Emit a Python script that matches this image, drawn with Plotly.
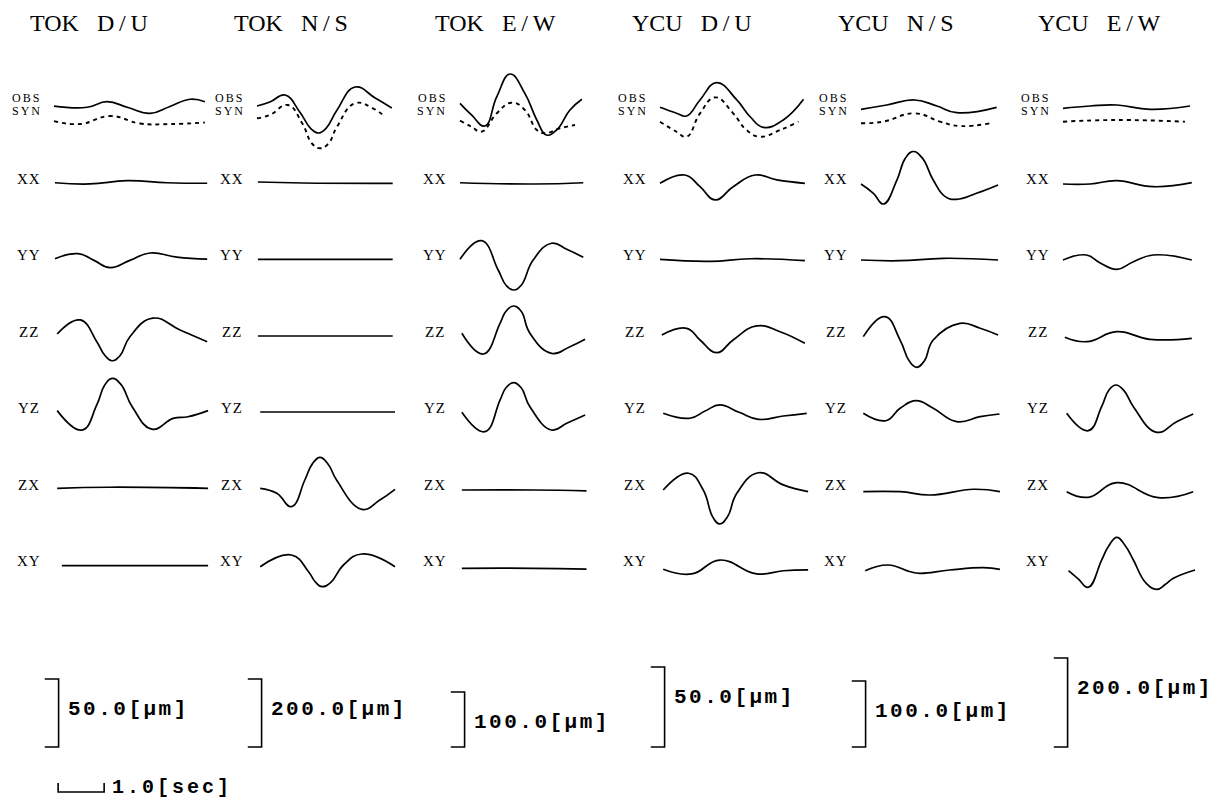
import plotly.graph_objects as go

# ---------------------------------------------------------------- data
PANELS = ["TOK", "TOK", "TOK", "YCU", "YCU", "YCU"]
COMPS_DIR = ["D/U", "N/S", "E/W", "D/U", "N/S", "E/W"]
COMPONENTS = ["OBS", "SYN", "XX", "YY", "ZZ", "YZ", "ZX", "XY"]
SCALE_UM = [50.0, 200.0, 100.0, 50.0, 100.0, 200.0]
SCALE_LABELS = ["50.0[μm]", "200.0[μm]", "100.0[μm]", "50.0[μm]", "100.0[μm]", "200.0[μm]"]
TIME_SCALE_SEC = 1.0
TIME_LABEL = "1.0[sec]"

# waveforms: (time [s], amplitude [μm])
TOK_DU_OBS = ([0, 0.72, 1.15, 1.61, 2.09, 2.52, 2.96, 3.28], [0.7, -0.2, 3.9, -0.4, -4.7, 0.4, 5.7, 3.9])
TOK_DU_SYN = ([0, 0.57, 1.22, 1.87, 2.52, 3.28], [0.7, -1.5, 4.4, -1.1, -1.5, -0.4])
TOK_DU_XX = ([0.02, 0.78, 1.59, 2.46, 3.33], [0.2, -0.7, 1.7, 0.2, -0.2])
TOK_DU_YY = ([0.02, 0.52, 0.87, 1.22, 1.65, 2.09, 2.67, 3.33], [0.5, 4.2, -0.7, -6.1, -0.7, 4.7, 1.7, 0.2])
TOK_DU_ZZ = ([0.07, 0.57, 0.93, 1.1, 1.26, 1.43, 1.65, 2.15, 2.74, 3.33], [1.5, 11.8, -4.2, -14.0, -18.2, -14.7, -0.5, 13.1, 4.4, -4.2])
TOK_DU_YZ = ([0.07, 0.61, 0.93, 1.1, 1.26, 1.45, 1.70, 2.13, 2.59, 2.91, 3.35], [1.0, -13.3, 5.2, 19.6, 24.7, 20.5, 3.9, -12.6, -4.7, -3.5, 1.0])
TOK_DU_ZX = ([0.07, 1.2, 3.35], [0.2, 1.0, 0.2])
TOK_DU_XY = ([0.17, 1.8, 3.35], [-0.5, -0.5, -0.5])

TOK_NS_OBS = ([0, 0.28, 0.61, 0.93, 1.17, 1.33, 1.5, 1.74, 2.13, 2.57, 2.93], [2.9, 14.7, 35.3, -14.7, -63.5, -76.5, -63.0, -8.8, 58.8, 26.5, -2.9])
TOK_NS_SYN = ([0, 0.28, 0.67, 0.98, 1.2, 1.37, 1.55, 1.74, 2.13, 2.52, 2.78], [10.9, 20.6, 50.0, -2.9, -64.0, -77.4, -64.0, -13.8, 55.0, 40.3, 15.6])
TOK_NS_XX = ([0.02, 1.0, 2.95], [3.0, 0.0, -1.0])
TOK_NS_YY = ([0.02, 1.5, 2.95], [0.0, 0.0, 0.0])
TOK_NS_ZZ = ([0.02, 1.5, 2.95], [0.0, 0.0, 0.0])
TOK_NS_YZ = ([0.07, 1.5, 3.0], [0.0, 0.0, 0.0])
TOK_NS_ZX = ([0.07, 0.43, 0.75, 1.04, 1.2, 1.37, 1.55, 1.73, 2.28, 2.67, 3.0], [0.9, -13.8, -53.2, 25.3, 72.0, 92.0, 71.0, 25.3, -60.9, -33.5, -2.1])
TOK_NS_XY = ([0.07, 0.75, 1.12, 1.27, 1.41, 1.6, 1.88, 2.28, 3.0], [-5.0, 29.4, -19.7, -50.0, -63.8, -52.0, 0.0, 32.4, -5.0])

TOK_EW_OBS = ([0, 0.25, 0.54, 0.8, 1.09, 1.41, 1.67, 1.88, 2.1, 2.39, 2.65], [6.7, -14.5, -34.5, 18.7, 60.0, 24.8, -23.6, -50.9, -41.8, -5.5, 14.0])
TOK_EW_SYN = ([0, 0.25, 0.47, 0.8, 1.12, 1.41, 1.67, 1.85, 2.17, 2.5], [2.4, -8.5, -17.6, 15.8, 35.1, 21.8, -14.5, -20.5, -11.5, -5.5])
TOK_EW_XX = ([0, 1.6, 2.68], [0.5, -1.8, 0.5])
TOK_EW_YY = ([0, 0.47, 0.83, 1.0, 1.16, 1.33, 1.59, 1.99, 2.32, 2.68], [0.2, 34.0, -19.3, -47.0, -55.6, -47.0, -1.1, 29.3, 18.4, 3.8])
TOK_EW_ZZ = ([0.04, 0.51, 0.87, 1.0, 1.16, 1.33, 1.52, 1.99, 2.39, 2.72], [4.9, -32.7, 23.1, 45.0, 54.5, 45.0, 4.9, -31.5, -19.4, -6.0])
TOK_EW_YZ = ([0.04, 0.54, 0.87, 1.0, 1.16, 1.33, 1.52, 1.99, 2.32, 2.72], [-0.5, -35.8, 21.8, 44.0, 53.3, 44.0, 9.6, -32.7, -20.5, -5.5])
TOK_EW_ZX = ([0.04, 1.6, 2.75], [-2.5, -2.5, -4.0])
TOK_EW_XY = ([0.04, 1.6, 2.75], [-6.0, -6.0, -7.5])

YCU_DU_OBS = ([0, 0.36, 0.58, 0.87, 1.23, 1.67, 1.96, 2.25, 2.68, 3.12], [-0.2, -3.9, -5.6, 4.4, 15.2, 4.4, -6.1, -12.7, -8.1, 4.8])
YCU_DU_SYN = ([0, 0.36, 0.58, 0.87, 1.2, 1.59, 1.88, 2.17, 2.61, 3.01], [0.2, -6.1, -9.2, 5.4, 15.4, 5.4, -5.0, -9.2, -5.0, 0.2])
YCU_DU_XX = ([0, 0.54, 0.87, 1.2, 1.59, 2.07, 2.54, 3.15], [-0.2, 5.0, -2.3, -10.6, -2.3, 5.0, 1.9, -0.2])
YCU_DU_YY = ([0, 1.09, 1.96, 3.15], [0.0, -1.2, 0.4, -0.8])
YCU_DU_ZZ = ([0.04, 0.58, 0.87, 1.23, 1.59, 2.1, 2.61, 3.15], [0.6, 4.8, -2.5, -10.4, -2.5, 6.3, 2.7, -4.6])
YCU_DU_YZ = ([0.07, 0.65, 0.98, 1.3, 1.72, 2.14, 2.68, 3.19], [-0.8, -3.9, 0.6, 4.4, -0.2, -4.6, -2.5, -0.8])
YCU_DU_ZX = ([0.07, 0.62, 0.94, 1.15, 1.3, 1.47, 1.67, 2.14, 2.68, 3.22], [-0.9, 9.6, -0.9, -18.0, -22.1, -17.5, -2.9, 9.9, 2.3, -1.9])
YCU_DU_XY = ([0.07, 0.69, 1.3, 2.1, 2.68, 3.22], [-2.7, -5.6, 3.1, -5.6, -3.6, -3.1])

YCU_NS_OBS = ([0, 0.56, 1.17, 1.65, 2.08, 2.95], [-3.5, 3.0, 10.6, 1.5, -8.6, -0.5])
YCU_NS_SYN = ([0, 0.48, 1.17, 1.72, 2.15, 2.79], [-2.0, 0.5, 13.2, 0.5, -6.1, -2.0])
YCU_NS_XX = ([0, 0.27, 0.49, 0.78, 0.96, 1.13, 1.33, 1.57, 1.83, 2.08, 2.51, 2.98], [-1.5, -15.6, -31.8, 4.5, 37.0, 47.7, 38.0, 4.5, -20.7, -24.7, -15.6, -3.0])
YCU_NS_YY = ([0, 0.85, 1.79, 2.98], [-0.9, -2.0, 1.7, -0.9])
YCU_NS_ZZ = ([0.05, 0.52, 0.85, 1.05, 1.21, 1.38, 1.57, 2.15, 2.59, 2.98], [-1.0, 29.3, -6.1, -38.0, -47.4, -37.5, -6.1, 19.2, 11.7, 1.5])
YCU_NS_YZ = ([0.05, 0.54, 0.85, 1.2, 1.57, 2.08, 2.59, 3.01], [-2.0, -13.2, 5.6, 17.1, 5.6, -14.7, -7.1, -3.0])
YCU_NS_ZX = ([0.05, 0.85, 1.5, 2.45, 3.02], [-4.7, -4.7, -9.7, -1.0, -4.7])
YCU_NS_XY = ([0.09, 0.59, 1.07, 1.28, 1.93, 2.66, 3.02], [-8.6, 0.0, -10.2, -12.6, -7.6, -4.1, -6.5])

YCU_EW_OBS = ([0, 0.59, 1.17, 1.89, 2.76], [-2.9, 2.2, 4.5, -5.2, 2.2])
YCU_EW_SYN = ([0, 1.17, 2.65], [0.7, 4.5, 0.7])
YCU_EW_XX = ([0, 0.59, 1.17, 1.96, 2.8], [-2.2, -2.2, 5.2, -8.3, 0.7])
YCU_EW_YY = ([0, 0.51, 0.8, 1.17, 1.53, 1.96, 2.8], [-1.3, 9.9, -7.4, -22.2, -5.2, 9.9, -1.3])
YCU_EW_ZZ = ([0.04, 0.52, 1.17, 1.89, 2.8], [-2.9, -12.8, 9.7, -7.4, -5.2])
YCU_EW_YZ = ([0.08, 0.55, 0.84, 1.0, 1.15, 1.33, 1.53, 2.04, 2.47, 2.83], [-3.0, -42.0, 12.0, 49.5, 60.7, 47.5, 12.0, -45.6, -21.8, -4.5])
YCU_EW_ZX = ([0.08, 0.55, 1.17, 2.07, 2.83], [-7.0, -19.6, 13.3, -20.4, -7.0])
YCU_EW_XY = ([0.12, 0.33, 0.55, 0.84, 1.0, 1.17, 1.35, 1.53, 1.8, 2.04, 2.22, 2.4, 2.87], [-12.8, -31.0, -50.1, 11.2, 44.0, 62.2, 44.0, 11.2, -40.0, -54.6, -44.0, -29.9, -11.2])

WAVES = [
    [TOK_DU_OBS, TOK_DU_SYN, TOK_DU_XX, TOK_DU_YY, TOK_DU_ZZ, TOK_DU_YZ, TOK_DU_ZX, TOK_DU_XY],
    [TOK_NS_OBS, TOK_NS_SYN, TOK_NS_XX, TOK_NS_YY, TOK_NS_ZZ, TOK_NS_YZ, TOK_NS_ZX, TOK_NS_XY],
    [TOK_EW_OBS, TOK_EW_SYN, TOK_EW_XX, TOK_EW_YY, TOK_EW_ZZ, TOK_EW_YZ, TOK_EW_ZX, TOK_EW_XY],
    [YCU_DU_OBS, YCU_DU_SYN, YCU_DU_XX, YCU_DU_YY, YCU_DU_ZZ, YCU_DU_YZ, YCU_DU_ZX, YCU_DU_XY],
    [YCU_NS_OBS, YCU_NS_SYN, YCU_NS_XX, YCU_NS_YY, YCU_NS_ZZ, YCU_NS_YZ, YCU_NS_ZX, YCU_NS_XY],
    [YCU_EW_OBS, YCU_EW_SYN, YCU_EW_XX, YCU_EW_YY, YCU_EW_ZZ, YCU_EW_YZ, YCU_EW_ZX, YCU_EW_XY],
]

# ---------------------------------------------------------------- layout
W, H = 1229, 804
PX_PER_SEC = 46.0
COL_X0 = [54, 257, 460, 660, 861, 1063]          # px of t = 0 in each column
BAR_PX = [68, 68, 55, 80, 66, 89]                 # px length of amplitude scale bar
ROW_Y = [107, 122, 183, 259.4, 336, 412, 488.6, 565]
BAR_BOTTOM = 747
TITLE_X = [89, 291, 495, 692, 896, 1099]
TITLE_Y = 23
TIMEBAR_Y = 792
TIMEBAR_T0 = 0.09

SERIF = "Liberation Serif, Times New Roman, serif"
MONO = "Liberation Mono, Courier New, monospace"
LW = 1.7


def px(xp):
    return xp / W


def py(yp):
    return 1 - yp / H


fig = go.Figure()
annotations = []
layout_axes = {}

for c in range(6):
    k = BAR_PX[c] / SCALE_UM[c]               # px per μm
    x0 = COL_X0[c]
    xa = "x" if c == 0 else f"x{c + 1}"
    ya = "y" if c == 0 else f"y{c + 1}"
    layout_axes["xaxis" if c == 0 else f"xaxis{c + 1}"] = dict(
        domain=[0, 1], range=[-x0 / PX_PER_SEC, (W - x0) / PX_PER_SEC],
        visible=False, anchor=ya, fixedrange=True)
    layout_axes["yaxis" if c == 0 else f"yaxis{c + 1}"] = dict(
        domain=[0, 1], range=[-(H - ROW_Y[0]) / k, ROW_Y[0] / k],
        visible=False, anchor=xa, fixedrange=True)

    for r, comp in enumerate(COMPONENTS):
        t, a = WAVES[c][r]
        off = (ROW_Y[r] - ROW_Y[0]) / k
        fig.add_trace(go.Scatter(
            x=t, y=[v - off for v in a], mode="lines",
            line=dict(color="black", width=LW + (0.2 if comp == "SYN" else 0),
                      shape="spline", smoothing=1.3,
                      dash="4px,4px" if comp == "SYN" else "solid"),
            xaxis=xa, yaxis=ya, hoverinfo="skip", showlegend=False))

    # amplitude scale bracket
    bottom = -(BAR_BOTTOM - ROW_Y[0]) / k
    top = bottom + SCALE_UM[c]
    tb, tick = 0.1, 0.3
    fig.add_trace(go.Scatter(
        x=[tb - tick, tb, tb, tb - tick], y=[top, top, bottom, bottom], mode="lines",
        line=dict(color="black", width=1.6), xaxis=xa, yaxis=ya,
        hoverinfo="skip", showlegend=False))
    annotations.append(dict(
        x=px(x0 + tb * PX_PER_SEC + 7), y=py(BAR_BOTTOM - BAR_PX[c] + 30),
        xref="paper", yref="paper", xanchor="left", yanchor="middle", showarrow=False,
        text=f'<span style="letter-spacing:2.5px">{SCALE_LABELS[c]}</span>',
        font=dict(family=MONO, size=21, color="black", weight="bold")))

    # column title
    annotations.append(dict(
        x=px(TITLE_X[c]), y=py(TITLE_Y), xref="paper", yref="paper",
        xanchor="center", yanchor="middle", showarrow=False,
        text=f"{PANELS[c]}\u00a0\u00a0\u00a0" + COMPS_DIR[c].replace("/", "\u2009/\u2009"),
        font=dict(family=SERIF, size=24, color="black")))

    # row labels
    annotations.append(dict(
        x=px(x0 - 27.5), y=py(97.5), xref="paper", yref="paper",
        xanchor="center", yanchor="middle", showarrow=False,
        text='<span style="letter-spacing:2px">OBS</span>',
        font=dict(family=SERIF, size=12, color="black")))
    annotations.append(dict(
        x=px(x0 - 27.5), y=py(110.5), xref="paper", yref="paper",
        xanchor="center", yanchor="middle", showarrow=False,
        text='<span style="letter-spacing:2px">SYN</span>',
        font=dict(family=SERIF, size=12, color="black")))
    for r in range(2, len(COMPONENTS)):
        annotations.append(dict(
            x=px(x0 - 25.5), y=py(ROW_Y[r] - 4), xref="paper", yref="paper",
            xanchor="center", yanchor="middle", showarrow=False,
            text=f'<span style="letter-spacing:1px">{COMPONENTS[r]}</span>',
            font=dict(family=SERIF, size=15, color="black")))

# time scale bar (first column axes)
k0 = BAR_PX[0] / SCALE_UM[0]
tb_bottom = -(TIMEBAR_Y - ROW_Y[0]) / k0
tb_tick = 9 / k0
fig.add_trace(go.Scatter(
    x=[TIMEBAR_T0, TIMEBAR_T0, TIMEBAR_T0 + TIME_SCALE_SEC, TIMEBAR_T0 + TIME_SCALE_SEC],
    y=[tb_bottom + tb_tick, tb_bottom, tb_bottom, tb_bottom + tb_tick],
    mode="lines", line=dict(color="black", width=1.6), xaxis="x", yaxis="y",
    hoverinfo="skip", showlegend=False))
annotations.append(dict(
    x=px(COL_X0[0] + (TIMEBAR_T0 + TIME_SCALE_SEC) * PX_PER_SEC + 6), y=py(787),
    xref="paper", yref="paper", xanchor="left", yanchor="middle", showarrow=False,
    text=f'<span style="letter-spacing:3px">{TIME_LABEL}</span>',
    font=dict(family=MONO, size=20, color="black", weight="bold")))

fig.update_layout(
    width=W, height=H, margin=dict(l=0, r=0, t=0, b=0),
    paper_bgcolor="white", plot_bgcolor="rgba(0,0,0,0)",
    showlegend=False, annotations=annotations, **layout_axes)

fig.write_html("out.html", config={"displayModeBar": False, "staticPlot": True},
               post_script="document.body.style.margin='0';")
